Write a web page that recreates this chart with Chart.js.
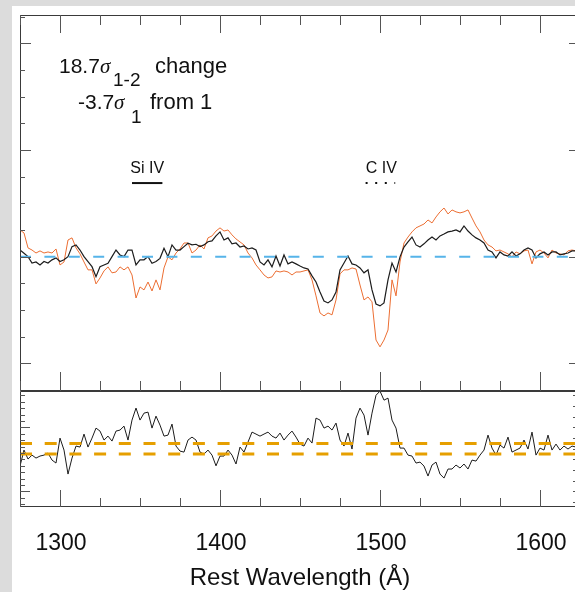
<!DOCTYPE html>
<html>
<head>
<meta charset="utf-8">
<script src="https://cdn.jsdelivr.net/npm/chart.js@4.4.1/dist/chart.umd.min.js"></script>
<style>
  html, body { margin: 0; padding: 0; background: #dcdcdc; width: 575px; height: 592px; overflow: hidden; }
  #sheet { position: absolute; left: 12px; top: 6px; width: 600px; height: 600px; background: #fff; }
  canvas { position: absolute; left: 0; }
  #upper { top: 0; }
  #lower { top: 390px; }
</style>
</head>
<body>
<div id="sheet"></div>
<canvas id="upper" width="590" height="392"></canvas>
<canvas id="lower" width="590" height="202"></canvas>
<script>
// rest wavelength grid (Angstrom)
const wavelength = [
  1275, 1277.5, 1280, 1282.5, 1285, 1287.5, 1290, 1292.5, 1295, 1297.5,
  1300, 1302.5, 1305, 1307.5, 1310, 1312.5, 1315, 1317.5, 1320, 1322.5,
  1325, 1327.5, 1330, 1332.5, 1335, 1337.5, 1340, 1342.5, 1345, 1347.5,
  1350, 1352.5, 1355, 1357.5, 1360, 1362.5, 1365, 1367.5, 1370, 1372.5,
  1375, 1377.5, 1380, 1382.5, 1385, 1387.5, 1390, 1392.5, 1395, 1397.5,
  1400, 1402.5, 1405, 1407.5, 1410, 1412.5, 1415, 1417.5, 1420, 1422.5,
  1425, 1427.5, 1430, 1432.5, 1435, 1437.5, 1440, 1442.5, 1445, 1447.5,
  1450, 1452.5, 1455, 1457.5, 1460, 1462.5, 1465, 1467.5, 1470, 1472.5,
  1475, 1477.5, 1480, 1482.5, 1485, 1487.5, 1490, 1492.5, 1495, 1497.5,
  1500, 1502.5, 1505, 1507.5, 1510, 1512.5, 1515, 1517.5, 1520, 1522.5,
  1525, 1527.5, 1530, 1532.5, 1535, 1537.5, 1540, 1542.5, 1545, 1547.5,
  1550, 1552.5, 1555, 1557.5, 1560, 1562.5, 1565, 1567.5, 1570, 1572.5,
  1575, 1577.5, 1580, 1582.5, 1585, 1587.5, 1590, 1592.5, 1595, 1597.5,
  1600, 1602.5, 1605, 1607.5, 1610, 1612.5, 1615, 1617.5, 1620, 1622.5,
  1625
];

// normalized flux, first epoch (black)
const fluxEpoch1 = [
  1.031, 1.016, 1.000, 0.970, 0.975, 0.961, 0.977, 0.970, 0.985, 0.994,
  0.977, 0.985, 1.000, 1.047, 1.055, 1.031, 1.000, 0.977, 0.953, 0.906,
  0.953, 0.961, 0.969, 1.000, 1.031, 1.008, 1.000, 1.031, 1.031, 0.961,
  0.985, 0.985, 1.000, 0.969, 0.977, 0.992, 1.039, 1.000, 1.055, 1.031,
  1.031, 1.047, 1.063, 1.055, 1.058, 1.047, 1.055, 1.070, 1.074, 1.097,
  1.116, 1.078, 1.088, 1.060, 1.064, 1.045, 1.050, 1.036, 1.041, 1.031,
  0.975, 0.961, 0.985, 0.952, 1.003, 0.956, 1.008, 0.966, 0.975, 0.966,
  0.956, 0.947, 0.942, 0.910, 0.881, 0.834, 0.792, 0.783, 0.797, 0.834,
  0.938, 0.970, 1.003, 0.966, 0.961, 0.947, 0.924, 0.938, 0.844, 0.778,
  0.769, 0.783, 0.891, 0.970, 0.928, 0.999, 1.045, 1.069, 1.092, 1.055,
  1.045, 1.060, 1.078, 1.092, 1.078, 1.097, 1.106, 1.116, 1.120, 1.125,
  1.116, 1.144, 1.120, 1.102, 1.088, 1.078, 1.064, 1.031, 1.022, 0.994,
  1.022, 1.008, 1.003, 1.022, 1.003, 1.013, 1.031, 1.041, 1.031, 0.994,
  1.013, 1.022, 1.008, 1.022, 1.022, 1.008, 1.013, 1.017, 1.027, 1.027,
  1.017
];

// normalized flux, second epoch (orange)
const fluxEpoch2 = [
  1.125, 1.111, 1.041, 1.031, 1.017, 1.027, 1.017, 1.022, 1.017, 1.036,
  0.961, 0.975, 1.078, 1.088, 1.041, 1.013, 0.975, 0.938, 0.938, 0.872,
  0.900, 0.933, 0.952, 0.924, 0.928, 0.952, 0.938, 0.952, 0.914, 0.806,
  0.858, 0.844, 0.881, 0.839, 0.891, 0.844, 0.947, 0.999, 0.985, 1.017,
  1.036, 1.064, 1.064, 1.017, 1.031, 1.055, 1.036, 1.088, 1.097, 1.120,
  1.135, 1.120, 1.125, 1.102, 1.083, 1.069, 1.055, 1.017, 0.994, 0.961,
  0.938, 0.914, 0.900, 0.905, 0.933, 0.928, 0.933, 0.928, 0.914, 0.928,
  0.928, 0.933, 0.938, 0.891, 0.816, 0.736, 0.722, 0.736, 0.727, 0.797,
  0.919, 0.938, 0.938, 0.947, 0.942, 0.867, 0.797, 0.811, 0.788, 0.609,
  0.577, 0.609, 0.656, 0.891, 0.816, 0.975, 1.064, 1.092, 1.116, 1.135,
  1.144, 1.153, 1.172, 1.158, 1.186, 1.210, 1.228, 1.200, 1.219, 1.210,
  1.205, 1.210, 1.219, 1.181, 1.144, 1.116, 1.078, 1.055, 1.045, 1.027,
  1.031, 1.022, 1.013, 0.999, 1.022, 1.013, 1.027, 1.031, 0.966, 1.022,
  1.031, 1.017, 0.994, 1.031, 1.017, 1.013, 1.008, 1.027, 1.031, 1.027,
  1.022
];

// change between epochs in units of sigma (lower panel)
const changeSigma = [
  -3.24, -0.25, -1.93, -1.19, -1.75, -1.37, -1.19, -0.81, -2.12, -2.68,
  1.99, -0.25, -4.74, -1.75, 0.50, 0.31, 2.74, 0.31, 1.99, 3.86,
  3.30, 1.62, 2.36, 1.43, 3.30, 3.49, 4.23, 1.62, 5.36, 7.61,
  5.36, 6.66, 6.85, 3.86, 6.10, 4.42, 2.36, 2.55, 4.61, 0.50,
  -0.44, -0.63, 1.62, 2.18, 1.62, -0.63, -1.00, -0.25, -1.19, -3.20,
  -1.37, -1.37, -0.25, -1.19, -2.86, 0.31, -0.63, 1.24, 3.11, 2.74,
  2.36, 2.74, 3.11, 2.36, 1.99, 2.93, 1.62, 2.55, 3.30, 2.18,
  0.87, 0.50, 1.99, 1.06, 5.73, 5.36, 3.86, 4.23, 3.49, 4.80,
  1.62, 0.50, 2.93, -0.06, 5.73, 7.60, 6.29, 2.55, 6.66, 10.0,
  10.78, 9.09, 9.47, 5.36, 3.86, 0.12, 0.12, -1.19, -1.37, -2.68,
  -2.50, -3.24, -5.11, -3.05, -2.50, -4.74, -5.49, -3.80, -3.80, -3.05,
  -3.61, -2.86, -3.80, -2.12, -2.31, -1.19, -0.25, 2.55, 0.12, -1.19,
  0.68, 0.12, 2.18, -0.63, -0.25, 0.12, 1.62, -0.06, 3.11, -1.19,
  0.12, -0.25, 2.55, -0.25, 0.87, -0.25, 0.50, -0.06, 0.50, 0.31,
  0.31
];

const continuumLevel = 1.0;
const sigmaLimits = [1, -1];
const xTickLabels = [1300, 1400, 1500, 1600];

// absorption troughs marked above the spectra
const siIVRange = [1345, 1364];
const cIVRange = [1491, 1509.5];
const markerLevel = 1.345;

const waveMin = 1275, waveMax = 1625;
const FONT = '"Liberation Sans", Arial, Helvetica, sans-serif';
const SIGMA_FONT = 'italic 21px "Liberation Serif", serif';

const toPoints = (ys) => wavelength.map((w, i) => ({ x: w, y: ys[i] }));

function drawFrame(ctx, a) {
  ctx.strokeStyle = "#3a3a3a";
  ctx.lineWidth = 1;
  ctx.beginPath();
  ctx.moveTo(a.left + 0.5, a.top + 0.5);
  ctx.lineTo(a.right - 0.5, a.top + 0.5);
  ctx.lineTo(a.right - 0.5, a.bottom - 0.5);
  ctx.lineTo(a.left + 0.5, a.bottom - 0.5);
  ctx.closePath();
  ctx.stroke();
}

function tick(ctx, x1, y1, x2, y2) {
  ctx.beginPath();
  ctx.moveTo(x1, y1);
  ctx.lineTo(x2, y2);
  ctx.stroke();
}

const upperDecor = {
  id: "upperDecor",
  afterDatasetsDraw(chart) {
    const { ctx, chartArea: a, scales: { x, y } } = chart;
    ctx.save();
    drawFrame(ctx, a);
    ctx.strokeStyle = "#555";
    for (let w = waveMin; w <= waveMax; w += 25) {
      const px = Math.round(x.getPixelForValue(w)) + 0.5;
      const major = w % 100 === 0;
      tick(ctx, px, a.top, px, a.top + (major ? 18 : 10));
      tick(ctx, px, a.bottom, px, a.bottom - (major ? 19 : 10));
    }
    for (let f = 0.5; f <= 2.13; f += 0.125) {
      const py = Math.round(y.getPixelForValue(f)) + 0.5;
      const major = Math.abs(f * 2 - Math.round(f * 2)) < 1e-6;
      tick(ctx, a.left, py, a.left + (major ? 11 : 5), py);
      tick(ctx, a.right, py, a.right - (major ? 11 : 5), py);
    }

    ctx.fillStyle = "#111";
    ctx.textBaseline = "alphabetic";
    ctx.textAlign = "left";
    // "18.7σ(1-2) change" and "-3.7σ(1) from 1"
    const segs = [
      ["18.7", 59, 72.7, "21px " + FONT],
      ["\u03c3", 100, 72.7, SIGMA_FONT],
      ["1-2", 113, 86, "19px " + FONT],
      ["change", 155, 72.7, "22px " + FONT],
      ["-3.7", 78, 109.3, "21px " + FONT],
      ["\u03c3", 114, 109.3, SIGMA_FONT],
      ["1", 131, 123, "19px " + FONT],
      ["from 1", 150, 109.3, "22px " + FONT]
    ];
    segs.forEach(([t, sx, sy, f]) => { ctx.font = f; ctx.fillText(t, sx, sy); });

    ctx.font = "16px " + FONT;
    ctx.textAlign = "center";
    const ly = y.getPixelForValue(markerLevel) - 10;
    ctx.fillText("Si IV", x.getPixelForValue((siIVRange[0] + siIVRange[1]) / 2), ly);
    ctx.fillText("C IV", x.getPixelForValue((cIVRange[0] + cIVRange[1]) / 2) + 1, ly);
    ctx.restore();
  }
};

const lowerDecor = {
  id: "lowerDecor",
  afterDatasetsDraw(chart) {
    const { ctx, chartArea: a, scales: { x, y } } = chart;
    ctx.save();
    drawFrame(ctx, a);
    ctx.strokeStyle = "#555";
    for (let w = waveMin; w <= waveMax; w += 25) {
      const px = Math.round(x.getPixelForValue(w)) + 0.5;
      const major = w % 100 === 0;
      tick(ctx, px, a.bottom, px, a.bottom - (major ? 17 : 9));
    }
    for (let k = -12; k <= 5; k++) {
      const v = 4 + 1.2 * k;
      const py = Math.round(y.getPixelForValue(v)) + 0.5;
      tick(ctx, a.left, py, a.left + (k % 10 === 0 ? 10 : 5), py);
    }
    for (let v = -10; v <= 10; v += 2) {
      const py = Math.round(y.getPixelForValue(v)) + 0.5;
      tick(ctx, a.right, py, a.right - 7, py);
    }

    ctx.fillStyle = "#111";
    ctx.textAlign = "center";
    ctx.textBaseline = "alphabetic";
    ctx.font = "23px " + FONT;
    xTickLabels.forEach((w) => ctx.fillText(String(w), x.getPixelForValue(w) + 1, a.bottom + 43));
    ctx.font = "24px " + FONT;
    ctx.fillText("Rest Wavelength (\u00c5)", (a.left + a.right) / 2, a.bottom + 78);
    ctx.restore();
  }
};

const baseOptions = (yMin, yMax, padding) => ({
  responsive: false,
  animation: false,
  devicePixelRatio: 1,
  events: [],
  layout: { padding },
  plugins: { legend: { display: false }, tooltip: { enabled: false } },
  elements: { point: { radius: 0 }, line: { tension: 0 } },
  scales: {
    x: { type: "linear", min: waveMin, max: waveMax, display: false },
    y: { type: "linear", min: yMin, max: yMax, display: false }
  }
});

new Chart(document.getElementById("upper"), {
  type: "line",
  data: {
    datasets: [
      {
        label: "continuum",
        data: [{ x: waveMin, y: continuumLevel }, { x: waveMax, y: continuumLevel }],
        borderColor: "#56b4e9", borderWidth: 2, borderDash: [11, 13.4]
      },
      { label: "Si IV", data: siIVRange.map((w) => ({ x: w, y: markerLevel })), borderColor: "#111", borderWidth: 2 },
      { label: "C IV", data: cIVRange.map((w) => ({ x: w, y: markerLevel })), borderColor: "#111", borderWidth: 2, borderDash: [2, 7.6] },
      { label: "epoch 1", data: toPoints(fluxEpoch1), borderColor: "#1c1c1c", borderWidth: 1.2 },
      { label: "epoch 2", data: toPoints(fluxEpoch2), borderColor: "#ec6e32", borderWidth: 1 }
    ]
  },
  options: baseOptions(0.37, 2.133, { left: 20, top: 15, right: 10, bottom: 1 }),
  plugins: [upperDecor]
});

new Chart(document.getElementById("lower"), {
  type: "line",
  data: {
    datasets: [
      ...sigmaLimits.map((s) => ({
        label: "limit " + s,
        data: [{ x: waveMin, y: s }, { x: waveMax, y: s }],
        borderColor: "#e69f00", borderWidth: 3, borderDash: [12, 12.7]
      })),
      { label: "change", data: toPoints(changeSigma), borderColor: "#1c1c1c", borderWidth: 1 }
    ]
  },
  options: baseOptions(-10.9, 10.8, { left: 20, top: 1, right: 10, bottom: 85 }),
  plugins: [lowerDecor]
});
</script>
</body>
</html>
